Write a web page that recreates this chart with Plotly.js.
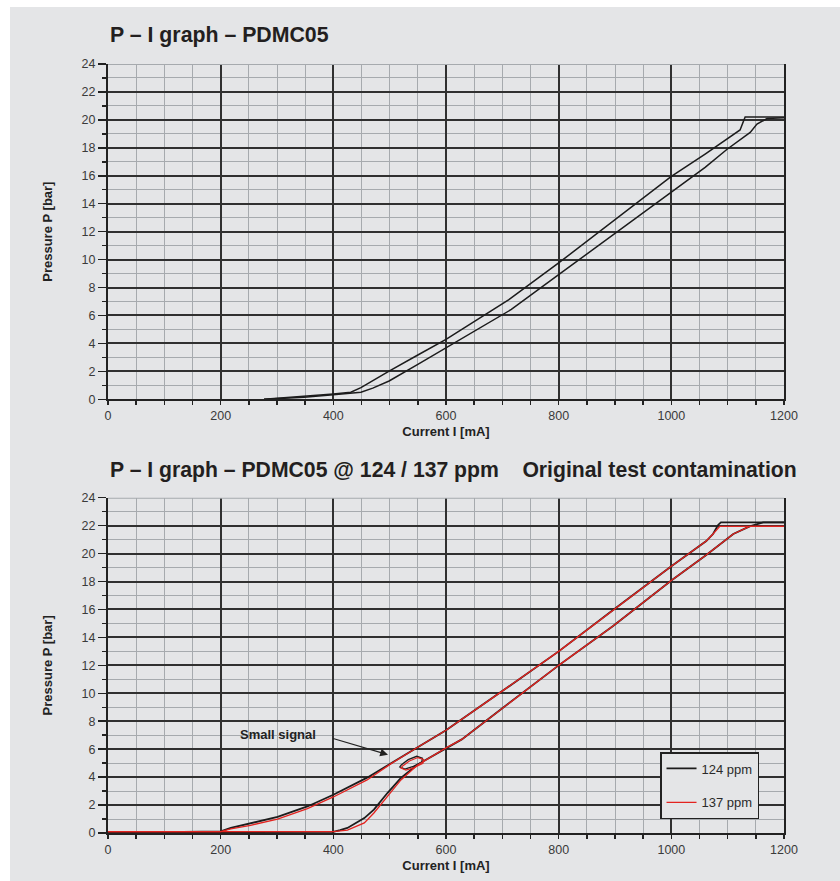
<!DOCTYPE html>
<html>
<head>
<meta charset="utf-8">
<script src="https://cdn.plot.ly/plotly-3.0.1.min.js"></script>
<style>html,body{margin:0;padding:0;background:#fff;}#chart{width:840px;height:881px;}</style>
</head>
<body>
<div id="chart"></div>
<script>
// ---------- Top chart: PDMC05 (current mA, pressure bar) ----------
var topRiseI = [277, 300, 348, 400, 431, 449, 470, 499, 550, 600, 660, 716, 800, 900, 1000, 1060, 1099, 1140, 1152, 1170, 1200];
var topRiseP = [0.0, 0.05, 0.15, 0.33, 0.42, 0.5, 0.8, 1.31, 2.5, 3.69, 5.1, 6.43, 8.92, 11.85, 14.8, 16.6, 17.9, 19.1, 19.7, 20.1, 20.15];
var topFallI = [1200, 1131, 1122, 1060, 1000, 900, 800, 711, 660, 600, 550, 499, 449, 431, 400, 348, 300, 277];
var topFallP = [20.2, 20.2, 19.28, 17.55, 15.95, 12.85, 9.76, 7.11, 5.8, 4.29, 3.17, 2.02, 0.83, 0.5, 0.38, 0.2, 0.08, 0.0];

// ---------- Bottom chart: 124 ppm (black) ----------
var b124RiseI = [0, 100, 200, 300, 400, 412, 425, 455, 472, 496, 520, 549, 600, 628, 700, 800, 896, 1000, 1062, 1110, 1139, 1151, 1163, 1200];
var b124RiseP = [0.05, 0.05, 0.05, 0.05, 0.08, 0.2, 0.36, 1.07, 1.67, 2.86, 3.94, 4.89, 6.09, 6.7, 8.93, 12.0, 14.8, 18.07, 19.9, 21.4, 21.95, 22.07, 22.24, 22.24];
var b124FallI = [1200, 1088, 1083, 1074, 1062, 1000, 896, 800, 696, 626, 600, 549, 502, 460, 400, 354, 301, 253, 218, 200, 100, 0];
var b124FallP = [22.24, 22.24, 22.05, 21.4, 20.9, 19.1, 15.95, 13.0, 10.05, 8.1, 7.35, 6.12, 4.99, 3.96, 2.74, 1.9, 1.15, 0.72, 0.36, 0.12, 0.06, 0.06];
var loop124I = [521, 533, 548, 558, 557, 542, 527, 518, 521];
var loop124P = [4.89, 5.25, 5.49, 5.35, 5.06, 4.77, 4.58, 4.73, 4.89];

// ---------- Bottom chart: 137 ppm (red) ----------
var b137RiseI = [0, 100, 200, 300, 400, 425, 455, 472, 496, 520, 549, 600, 628, 700, 800, 896, 1000, 1062, 1110, 1139, 1200];
var b137RiseP = [0.1, 0.1, 0.1, 0.1, 0.1, 0.2, 0.72, 1.43, 2.6, 3.8, 4.85, 6.09, 6.7, 8.93, 12.0, 14.8, 18.07, 19.9, 21.4, 21.95, 21.95];
var b137FallI = [1200, 1086, 1074, 1062, 1000, 896, 800, 696, 626, 600, 549, 502, 460, 400, 354, 301, 253, 218, 200, 100, 0];
var b137FallP = [21.95, 21.95, 21.4, 20.9, 19.1, 15.95, 13.0, 10.05, 8.1, 7.35, 6.12, 4.95, 3.8, 2.58, 1.75, 1.0, 0.55, 0.3, 0.1, 0.1, 0.1];
var loop137I = [523, 535, 550, 560, 559, 544, 529, 520, 523];
var loop137P = [4.8, 5.15, 5.4, 5.27, 4.98, 4.69, 4.5, 4.65, 4.8];

// ---------- Texts ----------
var title1 = 'P – I graph – PDMC05';
var title2 = 'P – I graph – PDMC05 @ 124 / 137 ppm\u00a0\u00a0\u00a0\u00a0Original test contamination';
var xTitle = 'Current I [mA]';
var yTitle = 'Pressure P [bar]';
var seriesNames = ['124 ppm', '137 ppm'];
var noteText = 'Small signal';

var BLACK = '#1c1c1c', RED = '#e3231f';
var BG = '#e4e5e7';
var MINOR = '#a6aaae';
var MAJOR = '#303030';
var FONT = 'Liberation Sans, Arial, Helvetica, sans-serif';

// minor grid positions (between the major ones)
function minorVals(max, step, majorStep) {
  var v = [];
  for (var k = step; k < max; k += step) { if (Math.round(k / step) % Math.round(majorStep / step) !== 0) v.push(k); }
  return v;
}
var xMinor = minorVals(1200, 50, 200);
var yMinor = minorVals(24, 1, 2);

function line(x, y, color, w, xa, ya, name, show) {
  return {x: x, y: y, type: 'scatter', mode: 'lines', xaxis: xa, yaxis: ya,
    line: {color: color, width: w}, name: name || '', showlegend: !!show,
    legendgroup: name || undefined, hoverinfo: 'skip'};
}

var data = [
  line(topRiseI, topRiseP, BLACK, 1.5, 'x', 'y'),
  line(topFallI, topFallP, BLACK, 1.5, 'x', 'y'),
  line(b124RiseI, b124RiseP, BLACK, 1.8, 'x2', 'y2', seriesNames[0], true),
  line(b124FallI, b124FallP, BLACK, 1.8, 'x2', 'y2', seriesNames[0], false),
  line(loop124I, loop124P, BLACK, 1.3, 'x2', 'y2', seriesNames[0], false),
  line(b137RiseI, b137RiseP, RED, 1.3, 'x2', 'y2', seriesNames[1], true),
  line(b137FallI, b137FallP, RED, 1.3, 'x2', 'y2', seriesNames[1], false),
  line(loop137I, loop137P, RED, 1.2, 'x2', 'y2', seriesNames[1], false)
];

function xAxis(anchor) {
  return {
    anchor: anchor, domain: [0, 1], range: [0, 1200], tick0: 0, dtick: 200,
    showgrid: true, gridcolor: MAJOR, gridwidth: 2,
    ticks: 'outside', ticklen: 4, tickcolor: '#222', tickwidth: 1.5,
    showline: true, linecolor: '#222', linewidth: 2, zeroline: false,
    minor: {tickmode: 'array', tickvals: xMinor, showgrid: true, gridcolor: MINOR, gridwidth: 1,
            ticks: 'outside', ticklen: 4, tickcolor: '#222', tickwidth: 1.5},
    tickfont: {family: FONT, size: 12.5, color: '#3a3a3a'},
    title: {text: xTitle, font: {family: FONT, size: 13, color: '#222', weight: 'bold'}, standoff: 5},
    fixedrange: true
  };
}
function yAxis(domain, anchor) {
  return {
    anchor: anchor, domain: domain, range: [0, 24], tick0: 0, dtick: 2,
    showgrid: true, gridcolor: MAJOR, gridwidth: 2,
    ticks: 'outside', ticklen: 8, tickcolor: '#222', tickwidth: 1.5,
    showline: true, mirror: true, linecolor: '#222', linewidth: 2, zeroline: false,
    minor: {tickmode: 'array', tickvals: yMinor, showgrid: true, gridcolor: MINOR, gridwidth: 1,
            ticks: 'outside', ticklen: 4, tickcolor: '#222', tickwidth: 1.5},
    tickfont: {family: FONT, size: 12.5, color: '#3a3a3a'},
    title: {text: yTitle, font: {family: FONT, size: 13, color: '#222', weight: 'bold'}, standoff: 26},
    fixedrange: true
  };
}

var layout = {
  width: 840, height: 881,
  margin: {l: 108, r: 56, t: 64, b: 48},
  paper_bgcolor: '#ffffff', plot_bgcolor: BG,
  font: {family: FONT, color: '#222'},
  xaxis: xAxis('y'),
  yaxis: yAxis([0.564, 1], 'x'),
  xaxis2: xAxis('y2'),
  yaxis2: yAxis([0, 0.436], 'x2'),
  showlegend: true,
  legend: {x: 0.8166, y: 0.1053, xanchor: 'left', yanchor: 'top',
    bgcolor: BG, bordercolor: '#222', borderwidth: 1.5,
    font: {family: FONT, size: 13, color: '#2a2a2a'},
    traceorder: 'grouped', tracegroupgap: 14, itemwidth: 30,
    entrywidthmode: 'pixels', entrywidth: 70},
  shapes: [
    {type: 'rect', xref: 'paper', yref: 'paper', x0: -0.145, x1: 1.09, y0: -0.07, y1: 1.0741,
     fillcolor: BG, line: {width: 0}, layer: 'below'},
    {type: 'line', xref: 'x', yref: 'y', x0: 0, x1: 1200, y0: 24, y1: 24,
     line: {color: MINOR, width: 2}, layer: 'above'},
    {type: 'line', xref: 'x2', yref: 'y2', x0: 0, x1: 1200, y0: 24, y1: 24,
     line: {color: MINOR, width: 2}, layer: 'above'}
  ],
  annotations: [
    {xref: 'paper', yref: 'paper', x: 0, y: 1.0377, xanchor: 'left', yanchor: 'middle',
     text: title1, showarrow: false, font: {family: FONT, size: 21.3, color: '#231f20', weight: 'bold'}},
    {xref: 'paper', yref: 'paper', x: 0, y: 0.472, xanchor: 'left', yanchor: 'middle',
     text: title2, showarrow: false, font: {family: FONT, size: 21.2, color: '#231f20', weight: 'bold'}},
    {xref: 'x2', yref: 'y2', x: 301, y: 7.03, xanchor: 'center', yanchor: 'middle',
     text: noteText, showarrow: false, font: {family: FONT, size: 13, color: '#222', weight: 'bold'}},
    {xref: 'x2', yref: 'y2', x: 497, y: 5.6, axref: 'x2', ayref: 'y2', ax: 397, ay: 6.8,
     text: '', showarrow: true, arrowhead: 2, arrowsize: 1.3, arrowwidth: 1.2, arrowcolor: '#222'}
  ]
};

Plotly.newPlot('chart', data, layout, {displayModeBar: false, staticPlot: true});
</script>
</body>
</html>
